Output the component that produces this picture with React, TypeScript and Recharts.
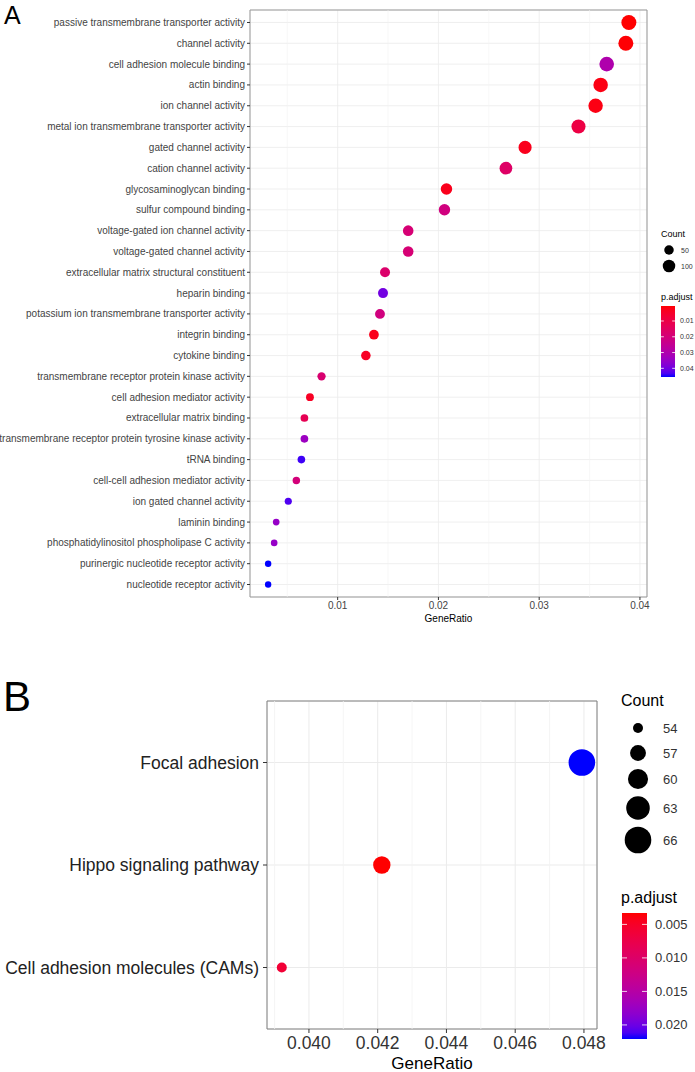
import { ScatterChart, Scatter, XAxis, YAxis, ZAxis, CartesianGrid, ReferenceLine, ReferenceArea, Cell } from 'recharts';

// panel A: GO terms
const termsA = [
  'passive transmembrane transporter activity',
  'channel activity',
  'cell adhesion molecule binding',
  'actin binding',
  'ion channel activity',
  'metal ion transmembrane transporter activity',
  'gated channel activity',
  'cation channel activity',
  'glycosaminoglycan binding',
  'sulfur compound binding',
  'voltage-gated ion channel activity',
  'voltage-gated channel activity',
  'extracellular matrix structural constituent',
  'heparin binding',
  'potassium ion transmembrane transporter activity',
  'integrin binding',
  'cytokine binding',
  'transmembrane receptor protein kinase activity',
  'cell adhesion mediator activity',
  'extracellular matrix binding',
  'transmembrane receptor protein tyrosine kinase activity',
  'tRNA binding',
  'cell-cell adhesion mediator activity',
  'ion gated channel activity',
  'laminin binding',
  'phosphatidylinositol phospholipase C activity',
  'purinergic nucleotide receptor activity',
  'nucleotide receptor activity',
];
const ratioA = [0.0389, 0.0386, 0.0367, 0.0361, 0.0356, 0.0339, 0.0286, 0.0267, 0.0208, 0.0206, 0.017, 0.017, 0.0147, 0.0145, 0.0142, 0.0136, 0.0128, 0.0084, 0.00725, 0.0067, 0.0067, 0.0064, 0.0059, 0.0051, 0.0039, 0.0037, 0.0031, 0.0031];
const countA = [152, 151, 143, 141, 139, 132, 112, 104, 81, 80, 66, 66, 57, 57, 55, 53, 50, 33, 28, 26, 26, 25, 23, 20, 15, 14, 12, 12];
const padjA = [0.0005, 0.0008, 0.030, 0.002, 0.002, 0.0095, 0.003, 0.016, 0.003, 0.021, 0.019, 0.019, 0.017, 0.040, 0.021, 0.003, 0.004, 0.018, 0.004, 0.0125, 0.034, 0.044, 0.02, 0.043, 0.035, 0.035, 0.0455, 0.0455];
const ticksA = [0.01, 0.02, 0.03, 0.04];
const minorA = [0.005, 0.015, 0.025, 0.035];
const countBreaksA = [50, 100];
const padjBreaksA = [0.01, 0.02, 0.03, 0.04];

// panel B: KEGG pathways
const termsB = ['Focal adhesion', 'Hippo signaling pathway', 'Cell adhesion molecules (CAMs)'];
const ratioB = [0.04794, 0.04212, 0.03921];
const countB = [66, 58, 54];
const padjB = [0.0221, 0.0033, 0.006];
const ticksB = [0.04, 0.042, 0.044, 0.046, 0.048];
const minorB = [0.039, 0.041, 0.043, 0.045, 0.047];
const countBreaksB = [54, 57, 60, 63, 66];
const padjBreaksB = [0.005, 0.01, 0.015, 0.02];

const FONT = '"Liberation Sans", Arial, sans-serif';

// red -> blue in CIELAB, like ggplot's gradient
const toLin = (c: number) => { c /= 255; return c <= 0.04045 ? c / 12.92 : Math.pow((c + 0.055) / 1.055, 2.4); };
const fromLin = (c: number) => {
  c = Math.max(0, Math.min(1, c));
  const v = c <= 0.0031308 ? 12.92 * c : 1.055 * Math.pow(c, 1 / 2.4) - 0.055;
  return Math.round(v * 255);
};
const rgbToLab = (r: number, g: number, b: number) => {
  const R = toLin(r), G = toLin(g), B = toLin(b);
  const X = (0.4124 * R + 0.3576 * G + 0.1805 * B) / 0.95047;
  const Y = 0.2126 * R + 0.7152 * G + 0.0722 * B;
  const Z = (0.0193 * R + 0.1192 * G + 0.9505 * B) / 1.08883;
  const f = (t: number) => (t > 0.008856 ? Math.cbrt(t) : 7.787 * t + 16 / 116);
  return [116 * f(Y) - 16, 500 * (f(X) - f(Y)), 200 * (f(Y) - f(Z))];
};
const labToHex = (L: number, a: number, b: number) => {
  const fy = (L + 16) / 116, fx = fy + a / 500, fz = fy - b / 200;
  const inv = (t: number) => (t ** 3 > 0.008856 ? t ** 3 : (t - 16 / 116) / 7.787);
  const X = inv(fx) * 0.95047, Y = inv(fy), Z = inv(fz) * 1.08883;
  const r = 3.2406 * X - 1.5372 * Y - 0.4986 * Z;
  const g = -0.9689 * X + 1.8758 * Y + 0.0415 * Z;
  const bb = 0.0557 * X - 0.204 * Y + 1.057 * Z;
  return '#' + [r, g, bb].map((v) => fromLin(v).toString(16).padStart(2, '0')).join('');
};
const RED = rgbToLab(255, 0, 0);
const BLUE = rgbToLab(0, 0, 255);
const ramp = (t: number) => labToHex(RED[0] + (BLUE[0] - RED[0]) * t, RED[1] + (BLUE[1] - RED[1]) * t, RED[2] + (BLUE[2] - RED[2]) * t);

const makeRows = (terms: string[], ratio: number[], count: number[], padj: number[]) =>
  terms.map((term, i) => ({ term, idx: i, ratio: ratio[i], count: count[i], padj: padj[i] }));

const rowsA = makeRows(termsA, ratioA, countA, padjA);
const rowsB = makeRows(termsB, ratioB, countB, padjB);

const pRangeA = [Math.min(...padjA), Math.max(...padjA)];
const pRangeB = [Math.min(...padjB), Math.max(...padjB)];
const cRangeA = [Math.min(...countA), Math.max(...countA)];
const cRangeB = [Math.min(...countB), Math.max(...countB)];
const sizeA = [Math.PI * 3.2 * 3.2, Math.PI * 7.5 * 7.5];
const sizeB = [Math.PI * 5 * 5, Math.PI * 13.3 * 13.3];

const colorOf = (p: number, range: number[]) => ramp((p - range[0]) / (range[1] - range[0]));
const radiusOf = (c: number, cr: number[], sr: number[]) => Math.sqrt((sr[0] + (sr[1] - sr[0]) * (c - cr[0]) / (cr[1] - cr[0])) / Math.PI);

const gradStops = Array.from({ length: 21 }, (_, i) => i / 20);

// plain one-line category labels (Recharts would wrap long ones)
const termTick = (terms: string[], fontSize: number, fill: string) => (props: any) => {
  const { x, y, payload } = props;
  return (
    <text x={x} y={y} textAnchor="end" dominantBaseline="central" fontSize={fontSize} fill={fill} fontFamily={FONT}>
      {terms[payload.value]}
    </text>
  );
};

type LegendProps = {
  id: string; x: number; countTitleY: number; countYs: number[]; breaks: number[]; cr: number[]; sr: number[];
  labelX: number; titleSize: number; labelSize: number; padTitleY: number; barX: number; barW: number; barTop: number; barBottom: number;
  pr: number[]; pBreaks: number[]; pFmt: (v: number) => string; pLabelX: number; circleX: number;
};

const Legend = (p: LegendProps) => {
  const yOf = (v: number) => p.barTop + (v - p.pr[0]) / (p.pr[1] - p.pr[0]) * (p.barBottom - p.barTop);
  return (
    <g fontFamily={FONT}>
      <defs>
        <linearGradient id={p.id} x1="0" y1="0" x2="0" y2="1">
          {gradStops.map((t) => <stop key={t} offset={t} stopColor={ramp(t)} />)}
        </linearGradient>
      </defs>
      <text x={p.x} y={p.countTitleY} fontSize={p.titleSize} fill="#000">Count</text>
      {p.breaks.map((b, i) => (
        <g key={b}>
          <circle cx={p.circleX} cy={p.countYs[i]} r={radiusOf(b, p.cr, p.sr)} fill="#000" />
          <text x={p.labelX} y={p.countYs[i]} fontSize={p.labelSize} fill="#333" dominantBaseline="central">{b}</text>
        </g>
      ))}
      <text x={p.x} y={p.padTitleY} fontSize={p.titleSize} fill="#000">p.adjust</text>
      <rect x={p.barX} y={p.barTop} width={p.barW} height={p.barBottom - p.barTop} fill={`url(#${p.id})`} />
      {p.pBreaks.map((v) => (
        <g key={v}>
          <line x1={p.barX} x2={p.barX + p.barW * 0.2} y1={yOf(v)} y2={yOf(v)} stroke="#fff" strokeWidth={0.8} />
          <line x1={p.barX + p.barW * 0.8} x2={p.barX + p.barW} y1={yOf(v)} y2={yOf(v)} stroke="#fff" strokeWidth={0.8} />
          <text x={p.pLabelX} y={yOf(v)} fontSize={p.labelSize} fill="#333" dominantBaseline="central">{p.pFmt(v)}</text>
        </g>
      ))}
    </g>
  );
};

export default function App() {
  return (
    <div style={{ position: 'absolute', left: 0, top: 0, width: 695, height: 1072, background: '#fff', fontFamily: FONT }}>
      <div style={{ position: 'absolute', left: 0, top: 0 }}>
        <ScatterChart width={695} height={624} margin={{ top: 10, right: 48, bottom: 0, left: 0 }}>
          <CartesianGrid stroke="#ebebeb" strokeWidth={0.8} />
          {minorA.map((v) => <ReferenceLine key={v} x={v} stroke="#f2f2f2" strokeWidth={0.6} />)}
          <XAxis
            type="number" dataKey="ratio" domain={[0.0013, 0.0407]} ticks={ticksA} allowDataOverflow
            axisLine={false} tickSize={3} tickMargin={2} stroke="#333" height={27}
            tick={{ fontSize: 10, fill: '#444', fontFamily: FONT }}
            label={{ value: 'GeneRatio', position: 'insideBottom', offset: 2, fontSize: 10, fill: '#000', fontFamily: FONT }}
          />
          <YAxis
            type="number" dataKey="idx" domain={[-0.6, termsA.length - 0.4]} reversed allowDataOverflow
            ticks={termsA.map((_, i) => i)} interval={0}
            axisLine={false} tickSize={3} tickMargin={2} stroke="#333" width={250}
            tick={termTick(termsA, 10, '#444')}
          />
          <ZAxis type="number" dataKey="count" domain={cRangeA} range={sizeA} />
          <ReferenceArea x1={0.0013} x2={0.0407} y1={-0.6} y2={termsA.length - 0.4} fill="none" stroke="#999" strokeWidth={1} ifOverflow="visible" />
          <Scatter data={rowsA} isAnimationActive={false}>
            {rowsA.map((r) => <Cell key={r.term} fill={colorOf(r.padj, pRangeA)} />)}
          </Scatter>
        </ScatterChart>
      </div>
      <div style={{ position: 'absolute', left: 0, top: 640 }}>
        <ScatterChart width={695} height={432} margin={{ top: 61, right: 98, bottom: 0, left: 0 }}>
          <CartesianGrid stroke="#ebebeb" strokeWidth={1} />
          {minorB.map((v) => <ReferenceLine key={v} x={v} stroke="#f2f2f2" strokeWidth={0.8} />)}
          <XAxis
            type="number" dataKey="ratio" domain={[0.03878, 0.04838]} ticks={ticksB} allowDataOverflow
            tickFormatter={(v: number) => v.toFixed(3)}
            axisLine={false} tickSize={4} tickMargin={4} stroke="#333" height={43}
            tick={{ fontSize: 17.5, fill: '#333', fontFamily: FONT }}
            label={{ value: 'GeneRatio', position: 'insideBottom', offset: 3, fontSize: 17, fill: '#000', fontFamily: FONT }}
          />
          <YAxis
            type="number" dataKey="idx" domain={[-0.6, termsB.length - 0.4]} reversed allowDataOverflow
            ticks={termsB.map((_, i) => i)} interval={0}
            axisLine={false} tickSize={4} tickMargin={4} stroke="#333" width={267}
            tick={termTick(termsB, 17.5, '#222')}
          />
          <ZAxis type="number" dataKey="count" domain={cRangeB} range={sizeB} />
          <ReferenceArea x1={0.03878} x2={0.04838} y1={-0.6} y2={termsB.length - 0.4} fill="none" stroke="#808080" strokeWidth={1} ifOverflow="visible" />
          <Scatter data={rowsB} isAnimationActive={false}>
            {rowsB.map((r) => <Cell key={r.term} fill={colorOf(r.padj, pRangeB)} />)}
          </Scatter>
        </ScatterChart>
      </div>
      <svg width={695} height={1072} style={{ position: 'absolute', left: 0, top: 0, pointerEvents: 'none' }}>
        <text x={4} y={24} fontSize={25} fontFamily={FONT} fill="#000">A</text>
        <text x={3} y={711} fontSize={42} fontFamily={FONT} fill="#000">B</text>
        <Legend
          id="gradA" x={661} countTitleY={237} countYs={[250, 266]} breaks={countBreaksA} cr={cRangeA} sr={sizeA}
          circleX={669} labelX={681} titleSize={9} labelSize={7} padTitleY={300}
          barX={661} barW={14} barTop={306} barBottom={377} pr={pRangeA} pBreaks={padjBreaksA}
          pFmt={(v) => v.toFixed(2)} pLabelX={680}
        />
        <Legend
          id="gradB" x={621} countTitleY={706} countYs={[728, 753, 779, 808, 840]} breaks={countBreaksB} cr={cRangeB} sr={sizeB}
          circleX={638} labelX={663} titleSize={16} labelSize={13} padTitleY={903}
          barX={622} barW={25} barTop={913} barBottom={1039} pr={pRangeB} pBreaks={padjBreaksB}
          pFmt={(v) => v.toFixed(3)} pLabelX={655}
        />
      </svg>
    </div>
  );
}
